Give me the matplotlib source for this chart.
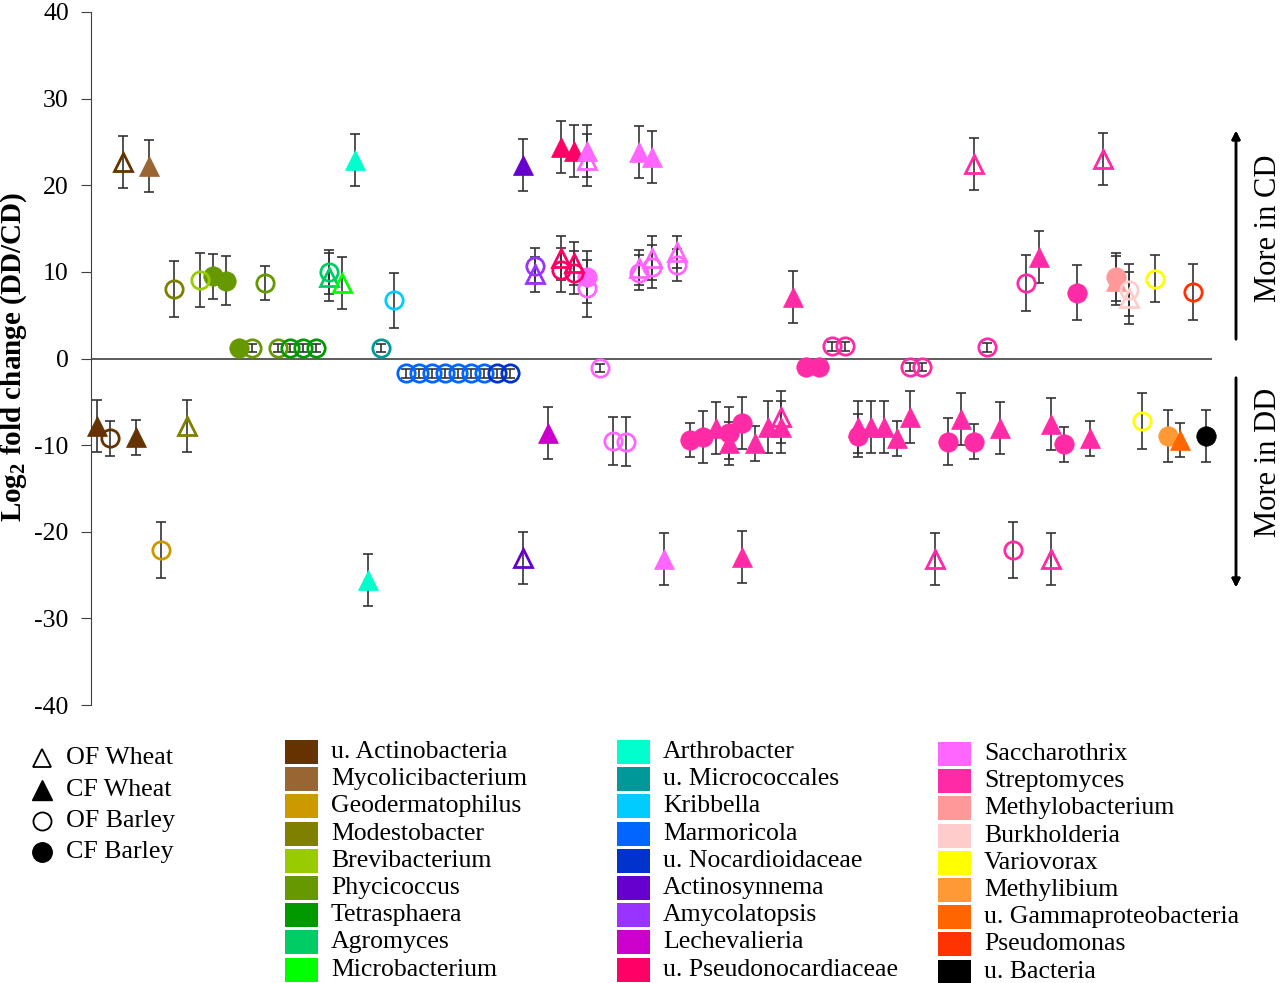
import matplotlib
matplotlib.use("Agg")
import matplotlib.pyplot as plt
from matplotlib.lines import Line2D
from matplotlib.patches import Rectangle
import numpy as np

plt.rcParams['font.family'] = ['Liberation Serif', 'DejaVu Serif']
plt.rcParams['mathtext.fontset'] = 'custom'
plt.rcParams['mathtext.rm'] = 'Liberation Serif'
plt.rcParams['mathtext.bf'] = 'Liberation Serif:bold'
plt.rcParams['axes.unicode_minus'] = False

# genus names and colours (legend order)
genera = ['u. Actinobacteria', 'Mycolicibacterium', 'Geodermatophilus', 'Modestobacter',
          'Brevibacterium', 'Phycicoccus', 'Tetrasphaera', 'Agromyces', 'Microbacterium',
          'Arthrobacter', 'u. Micrococcales', 'Kribbella', 'Marmoricola', 'u. Nocardioidaceae',
          'Actinosynnema', 'Amycolatopsis', 'Lechevalieria', 'u. Pseudonocardiaceae',
          'Saccharothrix', 'Streptomyces', 'Methylobacterium', 'Burkholderia', 'Variovorax',
          'Methylibium', 'u. Gammaproteobacteria', 'Pseudomonas', 'u. Bacteria']
colors = ['#663300', '#996633', '#CC9900', '#808000', '#99CC00', '#669900', '#009900',
          '#00CC66', '#00FF00', '#00FFCC', '#009999', '#00CCFF', '#0066FF', '#0033CC',
          '#6600CC', '#9933FF', '#CC00CC', '#FF0066', '#FF66FF', '#FF2AA6', '#FF9999',
          '#FFCCCC', '#FFFF00', '#FF9933', '#FF6600', '#FF3300', '#000000']

groups = ['OF Wheat', 'CF Wheat', 'OF Barley', 'CF Barley']

# x slot, log2 fold change, error, genus index, group index
pos = [1, 2, 3, 4, 5, 6, 7, 8, 9, 10, 11, 12, 13, 14, 15, 16, 17, 18, 19, 19, 20, 21, 22, 23, 24,
       25, 26, 27, 28, 29, 30, 31, 32, 33,
       34, 34, 35, 35, 36, 37, 37, 37, 38, 38, 38, 39, 39, 39, 39, 40, 41, 42,
       43, 43, 43, 44, 44, 44, 45, 46, 46,
       47, 48, 49, 50, 50, 51, 51, 52, 53, 54, 54, 55, 56, 57, 58, 59,
       60, 60, 61, 62, 63, 64, 64, 65, 66, 67, 68, 69, 69, 70, 71, 72, 73, 74, 75, 75, 76, 77, 78, 79,
       80, 80, 81, 81, 82, 83, 84, 85, 86, 87]
lfc = [-7.8, -9.2, 22.7, -9.1, 22.2, -22.1, 8.0, -7.8, 9.1, 9.5, 9.0, 1.2, 1.2, 8.7, 1.2, 1.2, 1.2, 1.2,
       10.0, 9.4, 8.7, 22.9, -25.6, 1.2, 6.7,
       -1.7, -1.7, -1.7, -1.7, -1.7, -1.7, -1.7, -1.7, -1.7,
       22.3, -23.0, 10.7, 9.7, -8.6, 24.4, 11.6, 10.2, 23.9, 11.0, 9.9, 23.9, 22.9, 9.4, 8.1, -1.1, -9.5, -9.6,
       23.8, 10.5, 9.9, 23.3, 11.6, 10.6, -23.2, 12.3, 10.8,
       -9.4, -9.1, -8.0, -8.6, -9.8, -7.5, -22.9, -9.8, -7.9, -6.7, -7.9, 7.1, -1.0, -1.0, 1.4, 1.4,
       -7.9, -8.9, -7.9, -7.9, -9.2, -6.7, -1.0, -1.0, -23.2, -9.6, -7.0, 22.5, -9.6, 1.3, -8.0, -22.1,
       8.7, 11.7, -7.6, -23.2, -9.9, 7.6, -9.2, 23.0,
       9.4, 9.0, 7.9, 7.0, -7.2, 9.2, -9.0, -9.4, 7.7, -8.9]
err = [3.0, 2.0, 3.0, 2.0, 3.0, 3.2, 3.2, 3.0, 3.1, 2.6, 2.8, 0.5, 0.5, 2.0, 0.5, 0.5, 0.5, 0.5,
       2.5, 2.8, 3.0, 3.0, 3.0, 0.5, 3.2,
       0.5, 0.5, 0.5, 0.5, 0.5, 0.5, 0.5, 0.5, 0.5,
       3.0, 3.0, 2.0, 2.0, 3.0, 3.0, 2.5, 2.5, 3.0, 2.5, 2.5, 3.0, 3.0, 3.0, 3.3, 0.5, 2.8, 2.8,
       3.0, 2.0, 2.0, 3.0, 2.5, 2.5, 3.0, 1.8, 1.8,
       2.0, 3.0, 3.0, 3.0, 2.5, 3.0, 3.0, 2.0, 3.0, 3.0, 3.0, 3.0, 0.3, 0.3, 0.5, 0.5,
       3.0, 2.5, 3.0, 3.0, 2.0, 3.0, 0.5, 0.5, 3.0, 2.7, 3.0, 3.0, 2.0, 0.5, 3.0, 3.2,
       3.2, 3.0, 3.0, 3.0, 2.0, 3.2, 2.0, 3.0,
       2.8, 2.8, 3.0, 3.0, 3.2, 2.7, 3.0, 2.0, 3.2, 3.0]
gen = [0, 0, 0, 0, 1, 2, 3, 3, 4, 5, 5, 5, 5, 5, 5, 6, 6, 6, 7, 7, 8, 9, 9, 10, 11,
       12, 12, 12, 12, 12, 12, 12, 13, 13,
       14, 14, 15, 15, 16, 17, 17, 17, 17, 17, 17, 18, 18, 18, 18, 18, 18, 18,
       18, 18, 18, 18, 18, 18, 18, 18, 18,
       19, 19, 19, 19, 19, 19, 19, 19, 19, 19, 19, 19, 19, 19, 19, 19,
       19, 19, 19, 19, 19, 19, 19, 19, 19, 19, 19, 19, 19, 19, 19, 19, 19, 19, 19, 19, 19, 19, 19, 19,
       20, 20, 21, 21, 22, 22, 23, 24, 25, 26]
grp = [1, 2, 0, 1, 1, 2, 2, 0, 2, 3, 3, 3, 2, 2, 2, 2, 2, 2, 2, 0, 0, 1, 1, 2, 2,
       2, 2, 2, 2, 2, 2, 2, 2, 2,
       1, 0, 2, 0, 1, 1, 0, 2, 1, 0, 2, 1, 0, 3, 2, 2, 2, 2,
       1, 0, 2, 1, 0, 2, 1, 0, 2,
       3, 3, 1, 3, 1, 3, 1, 1, 1, 0, 1, 1, 3, 3, 2, 2,
       1, 3, 1, 1, 1, 1, 2, 2, 0, 3, 1, 0, 3, 2, 1, 2, 2, 1, 1, 0, 3, 3, 1, 0,
       3, 1, 2, 0, 2, 2, 3, 1, 2, 3]

W, H = 1280, 983
fig = plt.figure(figsize=(W / 100, H / 100), dpi=100)


def fx(px):
    return px / W


def fy(py):
    return 1 - py / H


ax = fig.add_axes([fx(91), fy(705), fx(1212) - fx(91), (705 - 12) / H])
ax.set_ylim(-40, 40)
ax.set_xlim(0.54, 87.45)
ax.set_yticks(np.arange(-40, 41, 10))
ax.set_xticks([])
for s in ['top', 'right', 'bottom']:
    ax.spines[s].set_visible(False)
ax.spines['left'].set_color('#404040')
ax.tick_params(axis='y', direction='out', length=7, color='#404040', labelsize=18.5, pad=9)
ax.axhline(0, color='#404040', lw=1.2, zorder=1)

markers = ['^', '^', 'o', 'o']
filled = [False, True, False, True]

for x, y, e, g, k in zip(pos, lfc, err, gen, grp):
    c = colors[g]
    ax.errorbar(x, y, yerr=e, fmt='none', ecolor='#333333', elinewidth=1.2,
                capsize=3.6, capthick=1.2, zorder=2, clip_on=False)
    ms = 15 if markers[k] == '^' else 14
    if filled[k]:
        ax.plot(x, y, marker=markers[k], ms=ms, color=c, mec=c, mew=0.5,
                linestyle='none', zorder=3, clip_on=False)
    else:
        ax.plot(x, y, marker=markers[k], ms=ms - 1.5, mfc='none', mec=c, mew=2.0,
                linestyle='none', zorder=4, clip_on=False)

fig.text(fx(14), fy(357), r'Log$_{\mathbf{2}}$ fold change (DD/CD)', rotation=90,
         ha='center', va='center', fontsize=21, fontweight='bold')

# direction arrows
fig.add_artist(plt.annotate('', xy=(fx(1236), fy(128)), xytext=(fx(1236), fy(342)),
                            xycoords='figure fraction',
                            arrowprops=dict(arrowstyle='-|>', lw=1.8, color='black',
                                            mutation_scale=12)))
fig.add_artist(plt.annotate('', xy=(fx(1236), fy(590)), xytext=(fx(1236), fy(375)),
                            xycoords='figure fraction',
                            arrowprops=dict(arrowstyle='-|>', lw=1.8, color='black',
                                            mutation_scale=12)))
fig.text(fx(1268), fy(228), 'More in CD', rotation=90, ha='center', va='center', fontsize=22)
fig.text(fx(1268), fy(462), 'More in DD', rotation=90, ha='center', va='center', fontsize=22)

# marker legend
mk_y = [758, 790, 821, 852]
for k, name in enumerate(groups):
    if filled[k]:
        m = Line2D([fx(42)], [fy(mk_y[k])], marker=markers[k], ms=14, color='black',
                   linestyle='none', transform=fig.transFigure)
    else:
        m = Line2D([fx(42)], [fy(mk_y[k])], marker=markers[k], ms=13, mfc='none', mec='black',
                   mew=1.3, linestyle='none', transform=fig.transFigure)
    fig.add_artist(m)
    fig.text(fx(66), fy(mk_y[k]), name, ha='left', va='center', fontsize=18.7)

# colour legend
col_x = [285, 617, 938]
row0 = 752
for i, (name, c) in enumerate(zip(genera, colors)):
    col = i // 9
    row = i % 9
    yc = row0 + row * 27.2 + (2 if col == 2 else 0)
    fig.add_artist(Rectangle((fx(col_x[col]), fy(yc + 12)), 33 / W, 24 / H, facecolor=c,
                             edgecolor='none', transform=fig.transFigure))
    fig.text(fx(col_x[col] + 46), fy(yc), name, ha='left', va='center', fontsize=18.5)

fig.savefig('out.png', dpi=100)
